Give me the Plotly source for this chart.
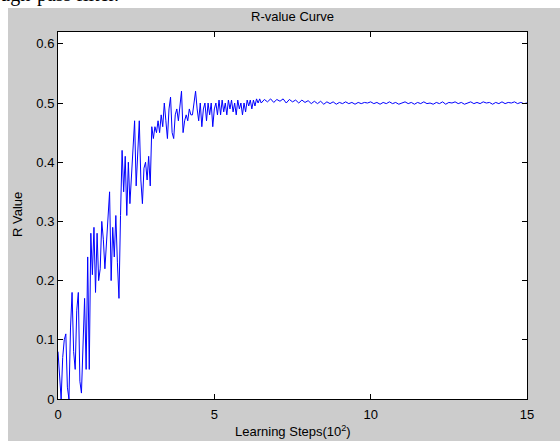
import plotly.graph_objects as go

# Learning steps (x, in units of 10^2) and R values
steps_early = [round(i * 0.05, 2) for i in range(131)]          # 0.00 .. 6.50
r_early = [
    0.08, 0.03, 0.00, 0.07, 0.10, 0.11, 0.02, 0.00, 0.12, 0.18,
    0.08, 0.05, 0.15, 0.18, 0.03, 0.01, 0.11, 0.17, 0.05, 0.24,
    0.05, 0.28, 0.21, 0.29, 0.18, 0.28, 0.20, 0.22, 0.30, 0.27,
    0.22, 0.26, 0.30, 0.35, 0.20, 0.29, 0.24, 0.31, 0.23, 0.17,
    0.31, 0.42, 0.35, 0.41, 0.31, 0.40, 0.33, 0.38, 0.42, 0.47,
    0.36, 0.42, 0.47, 0.37, 0.33, 0.39, 0.40, 0.37, 0.41, 0.36,
    0.46, 0.44, 0.46, 0.45, 0.47, 0.45, 0.48, 0.46, 0.50, 0.47,
    0.44, 0.49, 0.51, 0.45, 0.44, 0.48, 0.49, 0.47, 0.50, 0.52,
    0.45, 0.47, 0.48, 0.47, 0.49, 0.48, 0.48, 0.50, 0.52, 0.49,
    0.47, 0.50, 0.46, 0.49, 0.50, 0.47, 0.50, 0.48, 0.50, 0.46,
    0.49, 0.50, 0.48, 0.505, 0.48, 0.505, 0.485, 0.50, 0.48, 0.505,
    0.49, 0.505, 0.485, 0.50, 0.48, 0.505, 0.49, 0.50, 0.48, 0.50,
    0.485, 0.505, 0.495, 0.505, 0.49, 0.505, 0.495, 0.507, 0.50, 0.507,
    0.50,
]
steps_late = [round(6.6 + i * 0.1, 1) for i in range(85)]          # 6.6 .. 15.0
r_late = [
    0.506, 0.502, 0.507, 0.501, 0.506, 0.503, 0.507, 0.500, 0.506, 0.502,
    0.505, 0.500, 0.505, 0.501, 0.504, 0.499, 0.503, 0.499, 0.503, 0.498,
    0.502, 0.499, 0.502, 0.498, 0.501, 0.499, 0.502, 0.499, 0.501, 0.498,
    0.501, 0.499, 0.501, 0.500, 0.502, 0.499, 0.501, 0.498, 0.501, 0.499,
    0.502, 0.499, 0.501, 0.498, 0.500, 0.502, 0.499, 0.501, 0.498, 0.501,
    0.499, 0.502, 0.499, 0.500, 0.498, 0.501, 0.499, 0.502, 0.498, 0.501,
    0.500, 0.502, 0.499, 0.501, 0.498, 0.500, 0.502, 0.499, 0.501, 0.499,
    0.502, 0.500, 0.501, 0.498, 0.501, 0.499, 0.502, 0.499, 0.501, 0.500,
    0.502, 0.499, 0.501, 0.499, 0.500,
]
steps = steps_early + steps_late
r_values = r_early + r_late

x_ticks = [0, 5, 10, 15]
y_ticks = [0, 0.1, 0.2, 0.3, 0.4, 0.5, 0.6]

W, H = 560, 441
L, R, T, B = 58, 33, 32, 42
pw, ph = W - L - R, H - T - B

def px_x(p):
    return (p - L) / pw

def px_y(p):
    return (H - B - p) / ph

FONT = "Liberation Sans, Arial, sans-serif"
GRAY = "#cccccc"

fig = go.Figure()
fig.add_trace(go.Scatter(x=steps, y=r_values, mode="lines",
                         line=dict(color="#0000ff", width=1), showlegend=False))

axis_common = dict(showline=True, mirror="ticks", linecolor="black", linewidth=1,
                   ticks="inside", ticklen=5, tickcolor="black", tickwidth=1,
                   showgrid=False, zeroline=False,
                   tickfont=dict(family=FONT, size=13, color="black"))
fig.update_xaxes(range=[0, 15], tickvals=x_ticks, ticklabelstandoff=3, **axis_common)
fig.update_yaxes(range=[0, 0.62], tickvals=y_ticks, **axis_common)

fig.update_layout(
    width=W, height=H,
    margin=dict(l=L, r=R, t=T, b=B, pad=0),
    paper_bgcolor=GRAY, plot_bgcolor="white",
    shapes=[
        dict(type="rect", xref="paper", yref="paper",
             x0=px_x(0), x1=px_x(W), y0=px_y(8), y1=px_y(-2),
             fillcolor="white", line=dict(width=0), layer="below"),
        dict(type="rect", xref="paper", yref="paper",
             x0=px_x(-2), x1=px_x(8), y0=px_y(H + 2), y1=px_y(-2),
             fillcolor="white", line=dict(width=0), layer="below"),
    ],
    annotations=[
        dict(text="R-value Curve", xref="paper", yref="paper",
             x=0.5, y=px_y(16), xanchor="center", yanchor="middle",
             showarrow=False, font=dict(family=FONT, size=13, color="black")),
        dict(text="Learning Steps(10<sup>2</sup>)", xref="paper", yref="paper",
             x=0.5, y=px_y(431), xanchor="center", yanchor="middle",
             showarrow=False, font=dict(family=FONT, size=13, color="black")),
        dict(text="R Value", xref="paper", yref="paper", textangle=-90,
             x=px_x(17), y=px_y(215), xanchor="center", yanchor="middle",
             showarrow=False, font=dict(family=FONT, size=13, color="black")),
        dict(text="through-pass filter.", xref="paper", yref="paper",
             x=px_x(-34), y=px_y(-6), xanchor="left", yanchor="middle",
             showarrow=False, font=dict(family="Liberation Serif, Times New Roman, serif",
                                        size=20, color="black")),
    ],
)

fig.write_html("out.html", config={"displayModeBar": False},
               post_script="document.body.style.margin='0';document.body.style.overflow='hidden';")
